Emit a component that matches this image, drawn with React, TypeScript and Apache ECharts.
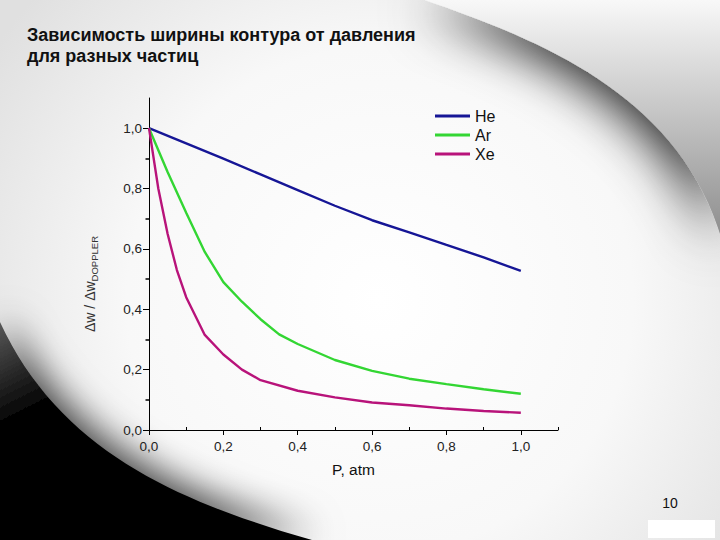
import React, { useEffect, useRef } from 'react';
import * as echarts from 'echarts';

// ---- data ----
const seriesNames = ['He', 'Ar', 'Xe'];

const heP = [0, 0.1, 0.2, 0.3, 0.4, 0.5, 0.6, 0.7, 0.8, 0.9, 1.0];
const heW = [1.0, 0.95, 0.899, 0.847, 0.795, 0.743, 0.695, 0.655, 0.613, 0.572, 0.527];

const arP = [0, 0.05, 0.1, 0.15, 0.2, 0.25, 0.3, 0.35, 0.4, 0.5, 0.6, 0.7, 0.8, 0.9, 1.0];
const arW = [1.0, 0.855, 0.72, 0.59, 0.49, 0.425, 0.367, 0.317, 0.285, 0.232, 0.196, 0.17, 0.152, 0.135, 0.12];

const xeP = [0, 0.025, 0.05, 0.075, 0.1, 0.15, 0.2, 0.25, 0.3, 0.4, 0.5, 0.6, 0.7, 0.8, 0.9, 1.0];
const xeW = [1.0, 0.8, 0.65, 0.53, 0.44, 0.315, 0.25, 0.2, 0.165, 0.13, 0.108, 0.091, 0.082, 0.071, 0.063, 0.057];

const majorTicks = [0, 0.2, 0.4, 0.6, 0.8, 1.0];
const minorTicksX = [0.1, 0.3, 0.5, 0.7, 0.9, 1.1];
const minorTicksY = [0.1, 0.3, 0.5, 0.7, 0.9];

const titleText = 'Зависимость ширины контура от давления\nдля разных частиц';
const xName = 'P, atm';
const pageNumber = '10';

const FONT = 'Liberation Sans, Arial, sans-serif';

// background decorations (slide template shapes)
echarts.graphic.registerShape(
  'blCorner',
  echarts.graphic.extendPath('M0 322 C 60 452, 180 502, 312 540 L 0 540 Z', {})
);
echarts.graphic.registerShape(
  'trCorner',
  echarts.graphic.extendPath('M 425 0 C 540 40, 680 95, 722 240 L 720 0 Z', {})
);

const fmt = (v: number) => v.toFixed(1).replace('.', ',');

const pairs = (xs: number[], ys: number[]) => xs.map((x, i) => [x, ys[i]]);

export default function App() {
  const ref = useRef<HTMLDivElement>(null);

  useEffect(() => {
    if (!ref.current) return;
    const chart = echarts.init(ref.current, undefined, { renderer: 'svg' });

    const option: any = {
      animation: false,
      backgroundColor: 'transparent',
      title: {
        text: titleText,
        left: 27,
        top: 24,
        padding: 0,
        textStyle: {
          fontFamily: FONT,
          fontWeight: 'bold',
          fontSize: 18,
          lineHeight: 21,
          color: '#111',
        },
      },
      legend: {
        data: seriesNames,
        orient: 'vertical',
        left: 435,
        top: 108,
        padding: 0,
        itemWidth: 35,
        itemHeight: 3,
        itemGap: 3,
        icon: 'rect',
        textStyle: { fontFamily: FONT, fontSize: 16, lineHeight: 16, color: '#111' },
      },
      grid: { left: 149, right: 162, top: 98, bottom: 110 },
      xAxis: [
        {
          type: 'value',
          min: 0,
          max: 1.1,
          position: 'bottom',
          axisLine: { show: true, onZero: false, lineStyle: { color: '#000', width: 1 } },
          axisTick: { show: true, customValues: majorTicks, length: 5, lineStyle: { color: '#000', width: 1 } },
          axisLabel: {
            customValues: majorTicks,
            formatter: fmt,
            margin: 9,
            fontFamily: FONT,
            fontSize: 13.5,
            color: '#222',
          },
          splitLine: { show: false },
          name: xName,
          nameLocation: 'middle',
          nameGap: 31,
          nameTextStyle: { fontFamily: FONT, fontSize: 15.5, color: '#111' },
        },
        {
          type: 'value',
          min: 0,
          max: 1.1,
          position: 'bottom',
          axisLine: { show: false },
          axisTick: { show: true, inside: true, customValues: minorTicksX, length: 3, lineStyle: { color: '#000', width: 1 } },
          axisLabel: { show: false },
          splitLine: { show: false },
        },
      ],
      yAxis: [
        {
          type: 'value',
          min: 0,
          max: 1.1,
          position: 'left',
          axisLine: { show: true, onZero: false, lineStyle: { color: '#000', width: 1 } },
          axisTick: { show: true, customValues: majorTicks, length: 6, lineStyle: { color: '#000', width: 1 } },
          axisLabel: {
            customValues: majorTicks,
            formatter: fmt,
            margin: 7,
            fontFamily: FONT,
            fontSize: 13.5,
            color: '#222',
          },
          splitLine: { show: false },
          name: '{a|Δw / Δw}{b|DOPPLER}',
          nameLocation: 'middle',
          nameRotate: 90,
          nameGap: 50,
          nameTextStyle: {
            padding: [0, 40, 0, 0],
            rich: {
              a: { fontFamily: FONT, fontSize: 14, color: '#333', lineHeight: 18 },
              b: { fontFamily: FONT, fontSize: 9.5, color: '#333', lineHeight: 8, verticalAlign: 'bottom' },
            },
          },
        },
        {
          type: 'value',
          min: 0,
          max: 1.1,
          position: 'left',
          axisLine: { show: false },
          axisTick: { show: true, customValues: minorTicksY, length: 3.5, lineStyle: { color: '#000', width: 1.5 } },
          axisLabel: { show: false },
          splitLine: { show: false },
        },
      ],
      series: [
        {
          name: 'He',
          type: 'line',
          data: pairs(heP, heW),
          showSymbol: false,
          symbol: 'none',
          lineStyle: { color: '#161696', width: 2.4 },
          itemStyle: { color: '#161696' },
          z: 3,
        },
        {
          name: 'Ar',
          type: 'line',
          data: pairs(arP, arW),
          showSymbol: false,
          symbol: 'none',
          lineStyle: { color: '#33d633', width: 2.4 },
          itemStyle: { color: '#33d633' },
          z: 3,
        },
        {
          name: 'Xe',
          type: 'line',
          data: pairs(xeP, xeW),
          showSymbol: false,
          symbol: 'none',
          lineStyle: { color: '#b8137a', width: 2.4 },
          itemStyle: { color: '#b8137a' },
          z: 3,
        },
      ],
      graphic: {
        elements: [
          {
            type: 'rect',
            silent: true,
            z: -10,
            shape: { x: 0, y: 0, width: 720, height: 540 },
            style: {
              fill: new echarts.graphic.RadialGradient(
                380,
                300,
                460,
                [
                  { offset: 0, color: '#ffffff' },
                  { offset: 0.55, color: '#f8f8f8' },
                  { offset: 1, color: '#e0e0e0' },
                ],
                true
              ),
            },
          },
          {
            type: 'blCorner',
            silent: true,
            z: -9,
            style: {
              fill: new echarts.graphic.LinearGradient(
                0,
                300,
                50,
                400,
                [
                  { offset: 0, color: '#6a6a6a' },
                  { offset: 1, color: '#030303' },
                ],
                true
              ),
              shadowBlur: 36,
              shadowColor: 'rgba(0,0,0,0.75)',
              shadowOffsetX: 6,
              shadowOffsetY: -6,
            },
          },
          {
            type: 'trCorner',
            silent: true,
            z: -9,
            style: {
              fill: new echarts.graphic.LinearGradient(
                0,
                0,
                0,
                240,
                [
                  { offset: 0, color: '#f8f8f8' },
                  { offset: 1, color: '#8c8c8c' },
                ],
                true
              ),
              shadowBlur: 50,
              shadowColor: 'rgba(0,0,0,0.85)',
              shadowOffsetX: -8,
              shadowOffsetY: 8,
            },
          },
          {
            type: 'rect',
            silent: true,
            z: -8,
            shape: { x: 648, y: 520, width: 67, height: 18 },
            style: { fill: '#ffffff' },
          },
          {
            type: 'text',
            silent: true,
            z: 5,
            x: 670,
            y: 503,
            style: {
              text: pageNumber,
              fontFamily: FONT,
              fontSize: 14,
              fill: '#111',
              align: 'center',
              verticalAlign: 'middle',
              textAlign: 'center',
              textVerticalAlign: 'middle',
            },
          },
        ],
      },
    };

    chart.setOption(option);
    return () => chart.dispose();
  }, []);

  return (
    <div
      ref={ref}
      style={{ position: 'absolute', left: 0, top: 0, width: 720, height: 540 }}
    />
  );
}
